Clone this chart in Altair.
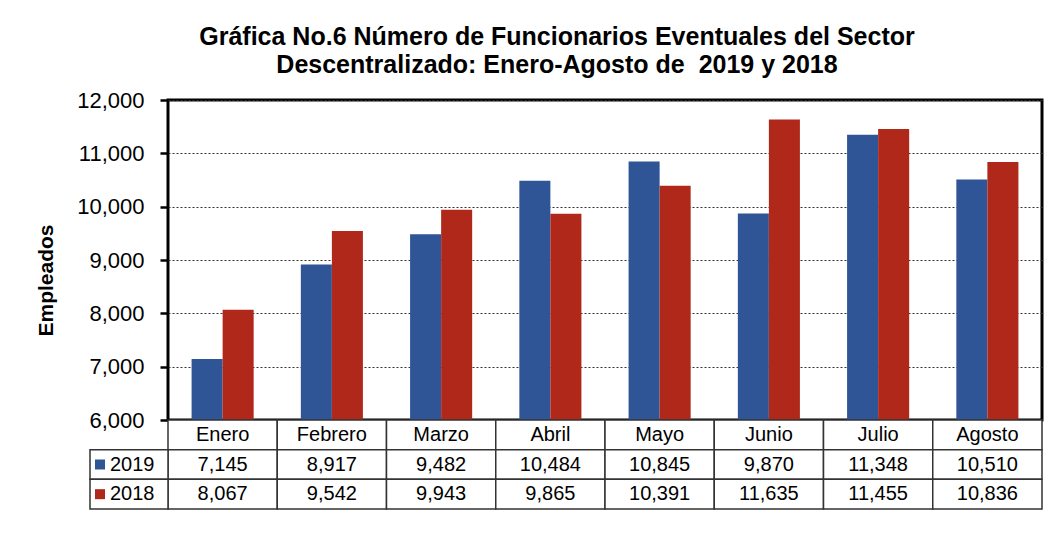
import altair as alt
import pandas as pd

months = ["Enero", "Febrero", "Marzo", "Abril", "Mayo", "Junio", "Julio", "Agosto"]
years = ["2019", "2018"]
v2019 = [7145, 8917, 9482, 10484, 10845, 9870, 11348, 10510]
v2018 = [8067, 9542, 9943, 9865, 10391, 11635, 11455, 10836]
y_ticks = [6000, 7000, 8000, 9000, 10000, 11000, 12000]
title_lines = ["Gráfica No.6 Número de Funcionarios Eventuales del Sector",
               "Descentralizado: Enero-Agosto de\u00a0 2019 y 2018"]
y_title = "Empleados"

BLUE = "#2F5597"
RED = "#B0281A"
FONT = "Liberation Sans"

series = {"2019": v2019, "2018": v2018}

bars_df = pd.DataFrame(
    [{"mes": m, "anio": yr, "valor": series[yr][i]}
     for yr in years for i, m in enumerate(months)]
)

# table cells (column index, row index)
cells = []
for i, m in enumerate(months):
    cells.append({"c0": i, "c1": i + 1, "r0": 0, "r1": 1, "txt": m, "kind": "head"})
for r, yr in enumerate(years, start=1):
    for i, m in enumerate(months):
        cells.append({"c0": i, "c1": i + 1, "r0": r, "r1": r + 1,
                      "txt": f"{series[yr][i]:,}", "kind": "val"})
LEG_W = 78 / 109.25
for r, yr in enumerate(years, start=1):
    cells.append({"c0": -LEG_W, "c1": 0, "r0": r, "r1": r + 1, "txt": "", "kind": "leg"})
cells_df = pd.DataFrame(cells)

legend_df = pd.DataFrame([{"anio": yr, "r": r + 0.5} for r, yr in enumerate(years, start=1)])

color = alt.Color("anio:N", scale=alt.Scale(domain=years, range=[BLUE, RED]), legend=None)

bars = alt.Chart(bars_df).mark_bar(clip=True).encode(
    x=alt.X("mes:N", sort=months, axis=None,
            scale=alt.Scale(paddingInner=0, paddingOuter=0)),
    xOffset=alt.XOffset("anio:N", sort=years,
                        scale=alt.Scale(paddingInner=0, paddingOuter=0.76)),
    y=alt.Y("valor:Q", scale=alt.Scale(domain=[6000, 12000]),
            axis=alt.Axis(values=y_ticks, format=",d", title=y_title,
                          grid=True, gridColor="#333333", gridDash=[2, 2], gridWidth=1,
                          labelFontSize=22, labelFont=FONT, labelColor="black",
                          labelPadding=16, tickSize=8, tickWidth=2.5, tickColor="black",
                          domain=False,
                          titleFont=FONT, titleFontSize=21, titleFontWeight="bold",
                          titleColor="black", titleX=-116, titleY=180,
                          titleBaseline="alphabetic", titleAngle=-90)),
    color=color,
)

xq = alt.X("c0:Q", scale=alt.Scale(domain=[0, 8]), axis=None)
x2q = alt.X2("c1:Q")
yq = alt.Y("r0:Q", scale=alt.Scale(domain=[0, 3], range=[320, 409]), axis=None)
y2q = alt.Y2("r1:Q")

grid_cells = alt.Chart(cells_df).mark_rect(
    fill="white", stroke="#333333", strokeWidth=1.5
).encode(x=xq, x2=x2q, y=yq, y2=y2q)

cell_text = alt.Chart(cells_df).transform_calculate(
    cx="(datum.c0 + datum.c1) / 2", cy="(datum.r0 + datum.r1) / 2"
).mark_text(fontSize=20, font=FONT, color="black", baseline="middle").encode(
    x=alt.X("cx:Q", scale=alt.Scale(domain=[0, 8]), axis=None),
    y=alt.Y("cy:Q", scale=alt.Scale(domain=[0, 3], range=[320, 409]), axis=None),
    text="txt:N",
)

leg_sq = alt.Chart(legend_df).transform_calculate(
    lx=f"{-68 / 109.25}"
).mark_square(size=100, opacity=1).encode(
    x=alt.X("lx:Q", scale=alt.Scale(domain=[0, 8]), axis=None),
    y=alt.Y("r:Q", scale=alt.Scale(domain=[0, 3], range=[320, 409]), axis=None),
    color=color,
)

leg_txt = alt.Chart(legend_df).transform_calculate(
    lx=f"{-58 / 109.25}"
).mark_text(fontSize=20, font=FONT, color="black", baseline="middle", align="left").encode(
    x=alt.X("lx:Q", scale=alt.Scale(domain=[0, 8]), axis=None),
    y=alt.Y("r:Q", scale=alt.Scale(domain=[0, 3], range=[320, 409]), axis=None),
    text="anio:N",
)

table = alt.layer(grid_cells, cell_text, leg_sq, leg_txt)

chart = alt.layer(bars, table).resolve_scale(x="independent", y="independent").properties(
    width=874, height=320,
    background="white",
    padding={"left": 27, "top": 17, "right": 5, "bottom": 5},
    title=alt.Title(text=title_lines, fontSize=25, font=FONT, fontWeight="bold",
                    color="black", anchor="middle", dx=-48, lineHeight=28, offset=11),
).configure_view(stroke="black", strokeWidth=3)

chart.save("out.html", embed_options={"renderer": "svg", "actions": False})
